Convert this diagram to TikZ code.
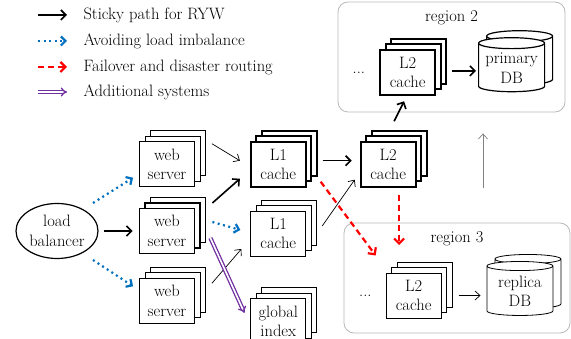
\documentclass[tikz,border=0pt]{standalone}
\usepackage{xcolor}
\usepackage{tikz}
\usetikzlibrary{shapes.geometric, arrows.meta, positioning, shadows}

\definecolor{lbblue}{RGB}{0,112,192}
\definecolor{extpurple}{RGB}{112,48,160}
\newcommand{\figfont}{\fontsize{16.5pt}{19.5pt}\selectfont}

\begin{document}
\begin{tikzpicture}[
    every node/.style={font=\figfont},
    stack/.style={rectangle, draw, fill=white, line width=0.8pt,
                  minimum width=55pt, minimum height=45pt, inner sep=1pt,
                  align=center,
                  copy shadow={shadow xshift=11pt, shadow yshift=11pt},
                  copy shadow={shadow xshift=5.5pt, shadow yshift=5.5pt}},
    stackthk/.style={stack, line width=1.8pt},
    db/.style={cylinder, shape border rotate=90, aspect=0.2, draw, fill=white,
               minimum width=66pt, minimum height=54pt, inner sep=1pt,
               align=center, line width=0.8pt,
               copy shadow={shadow xshift=8pt, shadow yshift=7pt}},
    rgn/.style={rectangle, rounded corners=10pt, draw=gray!55, line width=0.8pt},
    thk/.style={-{Straight Barb[length=5pt, width=10pt]}, line width=1.6pt},
    thn/.style={-{Straight Barb[length=5pt, width=9pt]}, line width=0.7pt},
    blu/.style={-{Straight Barb[length=4.5pt, width=9pt]}, draw=lbblue,
                line width=2.2pt, dash pattern=on 2pt off 3.5pt},
    red/.style={-{Straight Barb[length=5pt, width=10pt]}, draw=red,
                line width=2.2pt, dash pattern=on 6pt off 4pt},
    pur/.style={-{Implies}, draw=extpurple, double=white, line width=1.3pt,
                double distance=1.6pt}
]
    \useasboundingbox (0,0) rectangle (571pt,-339pt);

    % regions
    \node[rgn, minimum width=227pt, minimum height=110pt,
          label={[below=5pt]north:region 2}] (r2) at (451.5pt,-57pt) {};
    \node[rgn, minimum width=226pt, minimum height=110pt,
          label={[below=5pt]north:region 3}] (r3) at (457pt,-278pt) {};

    % legend
    \node[anchor=west] (lgsticky) at (80pt,-15pt) {Sticky path for RYW};
    \node[anchor=west] (lgavoid) at (80pt,-41pt) {Avoiding load imbalance};
    \node[anchor=west] (lgfail) at (80pt,-67pt) {Failover and disaster routing};
    \node[anchor=west] (lgadd) at (80pt,-92pt) {Additional systems};
    \draw[thk] ([xshift=-42pt]lgsticky.west) -- ([xshift=-13pt]lgsticky.west);
    \draw[blu] ([xshift=-42pt]lgavoid.west) -- ([xshift=-13pt]lgavoid.west);
    \draw[red] ([xshift=-42pt]lgfail.west) -- ([xshift=-13pt]lgfail.west);
    \draw[pur] ([xshift=-42pt]lgadd.west) -- ([xshift=-13pt]lgadd.west);

    % nodes
    \node[ellipse, draw, line width=1.2pt, minimum width=82pt,
          minimum height=55pt, inner sep=1pt, align=center]
          (lb) at (57pt,-231pt) {load\\balancer};
    \node[stackthk, right=40pt of lb] (web2) {web\\server};
    \node[stack, above=20.5pt of web2] (web1) {web\\server};
    \node[stack, below=23.5pt of web2] (web3) {web\\server};
    \node[stackthk, right=55pt of web1] (l1a) {L1\\cache};
    \node[stack, below=23pt of l1a] (l1b) {L1\\cache};
    \node[stack, below=42pt of l1b] (gidx) {global\\index};
    \node[stackthk, right=53pt of l1a] (l2m) {L2\\cache};
    \node[stackthk, above=45pt of l2m, xshift=19.5pt] (l2p) {L2\\cache};
    \node[db, line width=1.2pt, right=42pt of l2p, yshift=4pt] (pdb) {primary\\DB};
    \node[stack, below=85pt of l2m, xshift=25.5pt] (l2r) {L2\\cache};
    \node[db, right=45pt of l2r, yshift=4pt] (rdb) {replica\\DB};
    \node[inner sep=0pt, left=14pt of l2p] (dots2) {...};
    \node[inner sep=0pt, left=14pt of l2r] (dots3) {...};

    % connectors
    \draw[thk, shorten <=5pt, shorten >=6pt] (lb) -- (web2);
    \draw[blu] ([shift={(36pt,28pt)}]lb.center) -- ([shift={(-6pt,-13.5pt)}]web1.west);
    \draw[blu] ([shift={(36pt,-29pt)}]lb.center) -- ([shift={(-6pt,14.5pt)}]web3.west);
    \draw[thn] ([shift={(17pt,20.5pt)}]web1.east) -- ([shift={(-10pt,3.5pt)}]l1a.west);
    \draw[thk] ([shift={(17pt,28pt)}]web2.east) -- ([shift={(-10pt,-14.5pt)}]l1a.west);
    \draw[blu] ([shift={(17pt,9pt)}]web2.east) -- ([shift={(-10pt,3.5pt)}]l1b.west);
    \draw[thn] ([shift={(17pt,17.5pt)}]web3.east) -- ([shift={(-9pt,-15.5pt)}]l1b.west);
    \draw[pur] ([shift={(15pt,-7pt)}]web2.east) -- ([shift={(-6pt,8.5pt)}]gidx.west);
    \draw[thk] ([shift={(16pt,3.5pt)}]l1a.east) -- ([shift={(-8pt,3.5pt)}]l2m.west);
    \draw[thn] ([shift={(16pt,7.5pt)}]l1b.east) -- ([shift={(-5pt,-15.5pt)}]l2m.west);
    \draw[red] ([shift={(14pt,-17.5pt)}]l1a.east) -- ([shift={(-10pt,40pt)}]l2r.west);
    \draw[red] ([shift={(11pt,-7pt)}]l2m.south) -- ([shift={(-14.5pt,27.5pt)}]l2r.north);
    \draw[thk] ([shift={(6pt,19.5pt)}]l2m.north) -- ([shift={(-3.5pt,-5.5pt)}]l2p.south);
    \draw[thk] ([shift={(16pt,1.5pt)}]l2p.east) -- ([shift={(-2pt,-2.5pt)}]pdb.west);
    \draw[thn] ([xshift=17pt]l2r.east) -- ([shift={(-6pt,-4pt)}]rdb.west);
    \draw[thn, draw=gray] ([shift={(26pt,35pt)}]r3.north) -- ([shift={(31.5pt,-21pt)}]r2.south);
\end{tikzpicture}
\end{document}
